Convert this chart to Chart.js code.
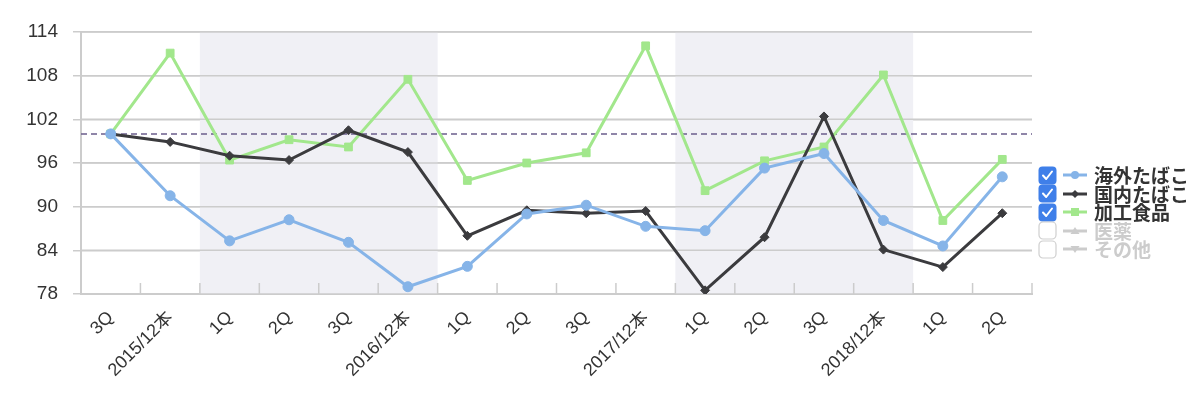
<!DOCTYPE html>
<html>
<head>
<meta charset="utf-8">
<script src="https://cdn.jsdelivr.net/npm/chart.js@4"></script>
<style>
    body { margin: 0; background: #fff; }
    #wrap { position: relative; width: 1200px; height: 395px; }
    #legend {
        position: absolute;
        left: 1038px;
        top: 166px;
        font: bold 19px "Noto Sans CJK JP", sans-serif;
    }
    .item { height: 18.5px; display: flex; align-items: center; white-space: nowrap; }
    .item svg { flex: none; }
    .item span { margin-left: 6px; line-height: 18px; }
</style>
</head>
<body>
<div id="wrap">
    <canvas id="chart" width="1200" height="395"></canvas>
    <div id="legend"></div>
</div>
<script>
// categories (quarters; 本 = full-year figures)
const labels = ['3Q', '2015/12本', '1Q', '2Q', '3Q', '2016/12本', '1Q', '2Q', '3Q', '2017/12本', '1Q', '2Q', '3Q', '2018/12本', '1Q', '2Q'];

// index values
const overseas = [100, 91.5, 85.3, 88.2, 85.1, 79.0, 81.8, 89.0, 90.2, 87.3, 86.7, 95.3, 97.3, 88.1, 84.6, 94.1];
const domestic = [100, 98.9, 97.0, 96.4, 100.5, 97.5, 86.0, 89.5, 89.1, 89.4, 78.5, 85.8, 102.4, 84.1, 81.7, 89.1];
const processedFood = [100, 111.1, 96.4, 99.2, 98.2, 107.5, 93.6, 96.0, 97.4, 112.1, 92.2, 96.3, 98.2, 108.1, 88.1, 96.5];

const yTicks = [78, 84, 90, 96, 102, 108, 114];
const baseline = 100;
// shaded years (category index ranges)
const bands = [[2, 5], [10, 13]];

const series = [
    { label: '海外たばこ', data: overseas, color: '#86b4e8', style: 'circle', radius: 5, shown: true },
    { label: '国内たばこ', data: domestic, color: '#3b3b3e', style: 'rectRot', radius: 4.5, shown: true },
    { label: '加工食品', data: processedFood, color: '#a2e78c', style: 'rect', radius: 5.5, shown: true },
    { label: '医薬', data: [], color: '#cccccc', style: 'triangle', radius: 4, shown: false },
    { label: 'その他', data: [], color: '#cccccc', style: 'triangle', radius: 4, shown: false }
];

const fontFamily = 'Helvetica, "Liberation Sans", "Noto Sans CJK JP", sans-serif';

// background bands, baseline and inward x ticks
const decorations = {
    id: 'decorations',
    beforeDatasetsDraw(chart) {
        const { ctx, chartArea, scales } = chart;
        const half = (scales.x.getPixelForValue(1) - scales.x.getPixelForValue(0)) / 2;
        ctx.save();
        ctx.fillStyle = '#f0f0f5';
        bands.forEach(([a, b]) => {
            const x0 = scales.x.getPixelForValue(a) - half;
            const x1 = scales.x.getPixelForValue(b) + half;
            ctx.fillRect(x0, chartArea.top, x1 - x0, chartArea.bottom - chartArea.top);
        });
        // redraw horizontal grid over bands
        ctx.strokeStyle = '#cccccc';
        ctx.lineWidth = 1.5;
        yTicks.forEach(v => {
            const y = scales.y.getPixelForValue(v);
            ctx.beginPath();
            ctx.moveTo(chartArea.left, y);
            ctx.lineTo(chartArea.right, y);
            ctx.stroke();
        });
        // inward ticks at category boundaries
        for (let i = 0; i <= labels.length; i++) {
            const x = scales.x.getPixelForValue(0) - half + i * 2 * half;
            ctx.beginPath();
            ctx.moveTo(x, chartArea.bottom - 11);
            ctx.lineTo(x, chartArea.bottom);
            ctx.stroke();
        }
        // baseline
        const yb = scales.y.getPixelForValue(baseline);
        ctx.strokeStyle = '#6b5d8c';
        ctx.setLineDash([6, 4]);
        ctx.beginPath();
        ctx.moveTo(chartArea.left, yb);
        ctx.lineTo(chartArea.right, yb);
        ctx.stroke();
        ctx.restore();
    }
};

new Chart(document.getElementById('chart').getContext('2d'), {
    type: 'line',
    data: {
        labels: labels,
        datasets: series.map(s => ({
            label: s.label,
            data: s.data,
            hidden: !s.shown,
            borderColor: s.color,
            backgroundColor: s.color,
            borderWidth: 3,
            pointStyle: s.style,
            pointRadius: s.radius,
            pointBorderWidth: 1,
            tension: 0,
            fill: false
        }))
    },
    options: {
        responsive: false,
        animation: false,
        layout: { padding: { top: 32, right: 168, left: 0, bottom: 0 } },
        plugins: {
            legend: { display: false },
            tooltip: { enabled: false }
        },
        scales: {
            x: {
                offset: true,
                afterFit: s => { s.height = 101; },
                grid: { display: true, drawOnChartArea: false, drawTicks: false },
                border: { color: '#cccccc', width: 2 },
                ticks: {
                    autoSkip: false,
                    maxRotation: 45,
                    minRotation: 45,
                    padding: 13,
                    color: '#333333',
                    font: { family: fontFamily, size: 18 }
                }
            },
            y: {
                min: 78,
                max: 114,
                afterFit: s => { s.width = 81; },
                afterBuildTicks: s => { s.ticks = yTicks.map(v => ({ value: v })); },
                grid: { color: '#cccccc', lineWidth: 1.5, tickLength: 8 },
                border: { color: '#cccccc', width: 2 },
                ticks: {
                    padding: 15,
                    color: '#333333',
                    font: { family: fontFamily, size: 19 }
                }
            }
        }
    },
    plugins: [decorations]
});

// checkbox legend
const markerSvg = s => {
    let m = '';
    const c = s.color;
    if (s.style === 'circle') m = `<circle cx="13" cy="9" r="4" fill="${c}"/>`;
    if (s.style === 'rectRot') m = `<path d="M13 5 L17 9 L13 13 L9 9 Z" fill="${c}"/>`;
    if (s.style === 'rect') m = `<rect x="9" y="5" width="8" height="8" fill="${c}"/>`;
    if (s.style === 'triangle' && s.label === '医薬') m = `<path d="M13 5 L17.5 12 L8.5 12 Z" fill="${c}"/>`;
    if (s.style === 'triangle' && s.label === 'その他') m = `<path d="M13 13 L17.5 6 L8.5 6 Z" fill="${c}"/>`;
    return `<svg width="26" height="18"><line x1="1" y1="9" x2="25" y2="9" stroke="${c}" stroke-width="3"/>${m}</svg>`;
};
const boxSvg = on => on
    ? '<svg width="19" height="19"><rect x="0.5" y="0.5" width="18" height="18" rx="4" fill="#3f7fe9"/><path d="M5 9.5 L8.2 13 L14 5.5" stroke="#fff" stroke-width="2" fill="none" stroke-linecap="round" stroke-linejoin="round"/></svg>'
    : '<svg width="19" height="19"><rect x="1" y="1" width="17" height="17" rx="4" fill="#fff" stroke="#cfcfcf" stroke-width="1.2"/></svg>';

document.getElementById('legend').innerHTML = series.map(s =>
    `<div class="item">${boxSvg(s.shown)}<span style="margin-left:5px;display:inline-flex">${markerSvg(s)}</span>` +
    `<span style="color:${s.shown ? '#333333' : '#cccccc'}">${s.label}</span></div>`
).join('');
</script>
</body>
</html>
